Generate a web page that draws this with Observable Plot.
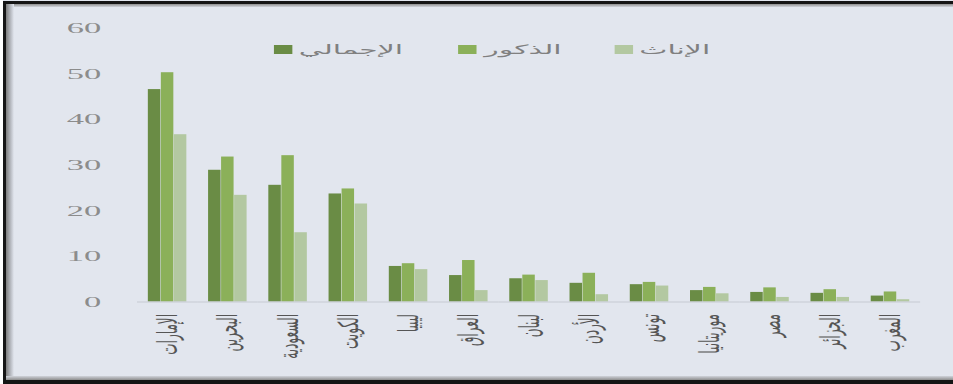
<!DOCTYPE html>
<html lang="ar">
<head>
<meta charset="utf-8">
<script src="https://cdn.jsdelivr.net/npm/d3@7"></script>
<script src="https://cdn.jsdelivr.net/npm/@observablehq/plot@0.6"></script>
<style>
  html, body { margin: 0; padding: 0; background: #ffffff; }
  #frame { position: relative; width: 953px; height: 384px; background: #e2e6ee; overflow: hidden; }
  /* the whole drawing is laid out narrow and widened horizontally */
  #stretch { position: absolute; left: 0; top: 0; width: 414px; height: 384px;
             transform: scaleX(2.302); transform-origin: 0 0; }
  #legend { position: absolute; left: 0; top: 0; width: 414px; height: 60px; }
  .item { position: absolute; top: 40px; display: flex; align-items: center; height: 18px; }
  .swatch { width: 8px; height: 9px; margin-right: 3px; }
  .name { font: 13px "DejaVu Sans", sans-serif; color: #808080; white-space: nowrap; }
  #chart { position: absolute; left: 0; top: 0; }
  [aria-label="y-axis tick label"] text { fill: #8c8c8c; font-family: "Liberation Serif", serif; font-size: 15px; }
  [aria-label="fx-axis tick label"] text { fill: #555; font-family: "DejaVu Sans", sans-serif; font-size: 12px; }
  .edge { position: absolute; }
</style>
</head>
<body>
<div id="frame">
  <div id="stretch">
    <div id="chart"></div>
    <div id="legend"></div>
  </div>
  <div class="edge" style="left:0;top:0;width:3px;height:384px;background:#fff"></div>
  <div class="edge" style="left:3px;top:1px;width:950px;height:3px;background:#151515"></div>
  <div class="edge" style="left:6px;top:4px;width:947px;height:3px;background:linear-gradient(#8e8e8e,#d0d3da)"></div>
  <div class="edge" style="left:3px;top:1px;width:3px;height:383px;background:#151515"></div>
  <div class="edge" style="left:6px;top:4px;width:8px;height:376px;background:linear-gradient(90deg,#7d7d7d,#b9bcc3 60%,#e2e6ee)"></div>
  <div class="edge" style="left:6px;top:376px;width:947px;height:4px;background:linear-gradient(#d0d3da,#8e8e8e)"></div>
  <div class="edge" style="left:3px;top:380px;width:950px;height:4px;background:#151515"></div>
</div>
<script>
// Countries, left to right
const countries = ["الإمارات", "البحرين", "السعودية", "الكويت", "ليبيا", "العراق", "لبنان", "الأردن", "تونس", "موريتانيا", "مصر", "الجزائر", "المغرب"];

// Series names
const series = ["الإجمالي", "الذكور", "الإناث"];

// Values per country, one array per series
const totalValues  = [46.6, 28.9, 25.6, 23.7, 7.8, 5.8, 5.1, 4.1, 3.8, 2.5, 2.1, 1.9, 1.3];
const maleValues   = [50.3, 31.8, 32.1, 24.8, 8.4, 9.1, 5.9, 6.3, 4.3, 3.2, 3.1, 2.7, 2.2];
const femaleValues = [36.7, 23.4, 15.2, 21.5, 7.1, 2.5, 4.7, 1.6, 3.5, 1.8, 1.0, 1.0, 0.5];

// Y axis ticks
const yTicks = [0, 10, 20, 30, 40, 50, 60];

const colors = ["#6a8c45", "#8bb059", "#b3c8a1"];

const valuesBySeries = [totalValues, maleValues, femaleValues];
const rows = [];
countries.forEach((c, i) => {
  series.forEach((s, j) => rows.push({country: c, series: s, value: valuesBySeries[j][i]}));
});

const chart = Plot.plot({
  width: 414,
  height: 384,
  marginTop: 28,
  marginBottom: 82.5,
  marginLeft: 59.5,
  marginRight: 14.3,
  style: {background: "transparent", overflow: "visible"},
  fx: {domain: countries, padding: 0, round: false, label: null, tickRotate: -90, tickSize: 0, tickPadding: 12},
  x: {domain: series, axis: null, round: false, paddingInner: 0.04, paddingOuter: 0.835},
  y: {domain: [0, 60], ticks: yTicks, tickSize: 0, tickPadding: 16, label: null},
  color: {domain: series, range: colors},
  marks: [
    Plot.barY(rows, {fx: "country", x: "series", y: "value", fill: "series"}),
    Plot.ruleY([0], {stroke: "#c6cad2", strokeWidth: 1.2})
  ]
});
document.getElementById("chart").appendChild(chart);

// Legend: swatch followed by the series name
const legendLeft = [118.8, 199.4, 266.7];
const legend = document.getElementById("legend");
series.forEach((s, j) => {
  const item = document.createElement("div");
  item.className = "item";
  item.style.left = legendLeft[j] + "px";
  const sw = document.createElement("span");
  sw.className = "swatch";
  sw.style.background = colors[j];
  const tx = document.createElement("span");
  tx.className = "name";
  tx.textContent = s;
  item.appendChild(sw);
  item.appendChild(tx);
  legend.appendChild(item);
});
</script>
</body>
</html>
